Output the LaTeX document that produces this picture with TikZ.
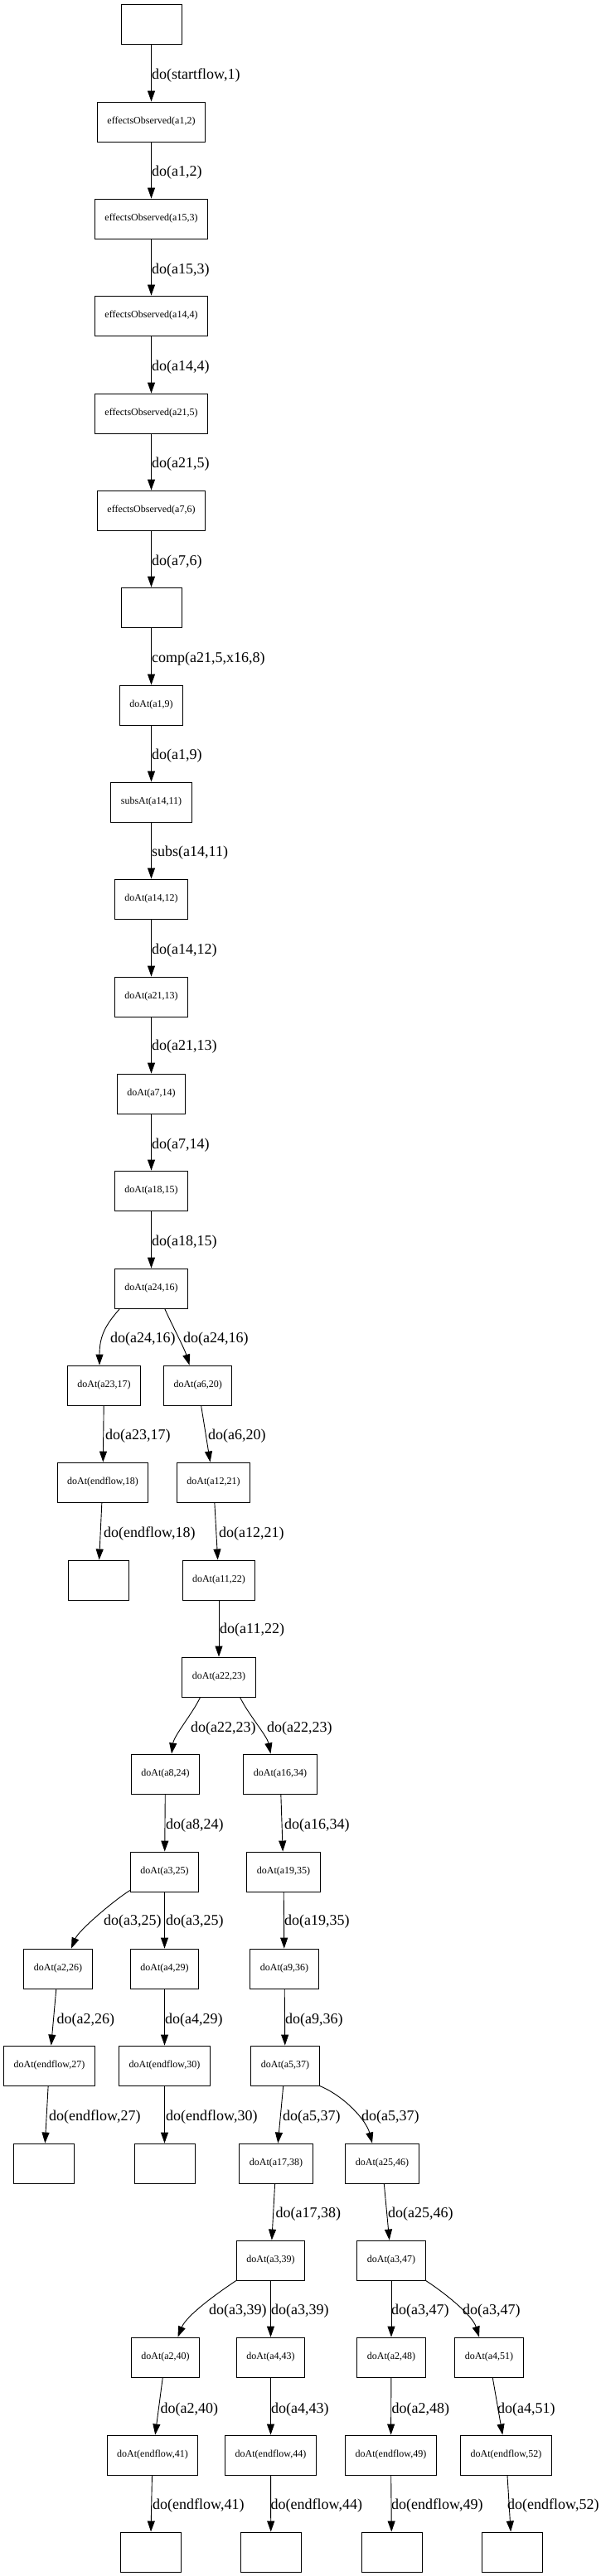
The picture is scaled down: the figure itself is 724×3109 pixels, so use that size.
\documentclass[tikz,border=0pt]{standalone}
\usepackage{fontspec}
\setmainfont{Liberation Serif}
\usetikzlibrary{arrows.meta}

\begin{document}
\begin{tikzpicture}[x=1pt, y=-1pt,
  sit/.style={draw, line width=0.9pt, minimum width=73pt, minimum height=48pt, inner xsep=12pt, inner ysep=0pt, font=\fontsize{12}{14}\selectfont},
  act/.style={-{Triangle[length=13pt, width=9pt]}, line width=0.9pt},
  lbl/.style={anchor=west, inner sep=0pt, font=\fontsize{18}{20}\selectfont}]
  \useasboundingbox (0,0) rectangle (724,3109);

  % Trunk
  \node[sit] (n0) at (182.5, 29) {};
  \node[sit] (n2) at (182.5, 147) {effectsObserved(a1,2)};
  \node[sit] (n3) at (182.5, 264) {effectsObserved(a15,3)};
  \node[sit] (n4) at (182.5, 381) {effectsObserved(a14,4)};
  \node[sit] (n5) at (182.5, 499) {effectsObserved(a21,5)};
  \node[sit] (n6) at (182.5, 616) {effectsObserved(a7,6)};
  \node[sit] (n7) at (182.5, 733) {};
  \node[sit] (n9) at (182.5, 851) {doAt(a1,9)};
  \node[sit] (n11) at (182.5, 968) {subsAt(a14,11)};
  \node[sit] (n12) at (182.5, 1085) {doAt(a14,12)};
  \node[sit] (n13) at (182.5, 1203) {doAt(a21,13)};
  \node[sit] (n14) at (182.5, 1320) {doAt(a7,14)};
  \node[sit] (n15) at (182.5, 1437) {doAt(a18,15)};
  \node[sit] (n16) at (182.5, 1555) {doAt(a24,16)};

  \draw[act] (n0) -- (n2);
  \draw[act] (n2) -- (n3);
  \draw[act] (n3) -- (n4);
  \draw[act] (n4) -- (n5);
  \draw[act] (n5) -- (n6);
  \draw[act] (n6) -- (n7);
  \draw[act] (n7) -- (n9);
  \draw[act] (n9) -- (n11);
  \draw[act] (n11) -- (n12);
  \draw[act] (n12) -- (n13);
  \draw[act] (n13) -- (n14);
  \draw[act] (n14) -- (n15);
  \draw[act] (n15) -- (n16);

  \node[lbl] (l1) at (183, 91) {do(startflow,1)};
  \node[lbl] (l2) at (183, 208) {do(a1,2)};
  \node[lbl] (l3) at (183, 326) {do(a15,3)};
  \node[lbl] (l4) at (183, 443) {do(a14,4)};
  \node[lbl] (l5) at (183, 560) {do(a21,5)};
  \node[lbl] (l6) at (183, 678) {do(a7,6)};
  \node[lbl] (l8) at (183, 795) {comp(a21,5,x16,8)};
  \node[lbl] (l9) at (183, 912) {do(a1,9)};
  \node[lbl] (l11) at (183, 1029) {subs(a14,11)};
  \node[lbl] (l12) at (183, 1147) {do(a14,12)};
  \node[lbl] (l13) at (183, 1263) {do(a21,13)};
  \node[lbl] (l14) at (183, 1382) {do(a7,14)};
  \node[lbl] (l15) at (183, 1499) {do(a18,15)};

  % First split
  \node[sit] (n17) at (125.5, 1672) {doAt(a23,17)};
  \node[sit] (n20) at (238.7, 1672) {doAt(a6,20)};
  \node[sit] (n18) at (124, 1789) {doAt(endflow,18)};
  \node[sit] (n21) at (257.5, 1789) {doAt(a12,21)};
  \node[sit] (n19) at (118.5, 1907) {};
  \node[sit] (n22) at (264, 1907) {doAt(a11,22)};
  \node[sit] (n23) at (264, 2024) {doAt(a22,23)};

  \draw[act] ([xshift=-38pt]n16.south) .. controls +(-16.6,19) and +(0,-36) .. ([xshift=-5.5pt]n17.north);
  \draw[act] ([xshift=16.2pt]n16.south) .. controls +(8,18) and +(-6,-20) .. ([xshift=-10.2pt]n20.north);
  \draw[act] (n17) -- (n18);
  \draw[act] (n20) -- (n21);
  \draw[act] (n18) -- (n19);
  \draw[act] (n21) -- (n22);
  \draw[act] (n22) -- (n23);

  \node[lbl] (l16a) at (133, 1616) {do(a24,16)};
  \node[lbl] (l16b) at (221, 1616) {do(a24,16)};
  \node[lbl] (l17) at (127, 1733) {do(a23,17)};
  \node[lbl] (l20) at (251, 1733) {do(a6,20)};
  \node[lbl] (l18) at (125, 1851) {do(endflow,18)};
  \node[lbl] (l21) at (264, 1851) {do(a12,21)};
  \node[lbl] (l22) at (265, 1967) {do(a11,22)};

  % Second split
  \node[sit] (n24) at (199.5, 2141) {doAt(a8,24)};
  \node[sit] (n34) at (338, 2141) {doAt(a16,34)};
  \node[sit] (n25) at (198.5, 2259) {doAt(a3,25)};
  \node[sit] (n35) at (342, 2259) {doAt(a19,35)};
  \node[sit] (n26) at (70, 2376) {doAt(a2,26)};
  \node[sit] (n29) at (198.5, 2376) {doAt(a4,29)};
  \node[sit] (n36) at (343, 2376) {doAt(a9,36)};
  \node[sit] (n27) at (59.5, 2493) {doAt(endflow,27)};
  \node[sit] (n30) at (198.5, 2493) {doAt(endflow,30)};
  \node[sit] (n37) at (344, 2493) {doAt(a5,37)};
  \node[sit] (n28) at (53, 2611) {};
  \node[sit] (n31) at (198.5, 2611) {};
  \node[sit] (n38) at (333, 2611) {doAt(a17,38)};
  \node[sit] (n46) at (461, 2611) {doAt(a25,46)};

  \draw[act] ([xshift=-22.4pt]n23.south) .. controls +(-9.6,20) and +(3,-22) .. ([xshift=7.5pt]n24.north);
  \draw[act] ([xshift=25.6pt]n23.south) .. controls +(9.4,20) and +(-4.5,-22) .. ([xshift=-11.5pt]n34.north);
  \draw[act] (n24) -- (n25);
  \draw[act] (n34) -- (n35);
  \draw[act] ([yshift=2pt]n25.south west) .. controls +(-18,11) and +(9,-22) .. ([xshift=16pt]n26.north);
  \draw[act] (n25) -- (n29);
  \draw[act] (n35) -- (n36);
  \draw[act] (n26) -- (n27);
  \draw[act] (n29) -- (n30);
  \draw[act] (n36) -- (n37);
  \draw[act] (n27) -- (n28);
  \draw[act] (n30) -- (n31);
  \draw[act] (n37) -- (n38);
  \draw[act] (n37.south east) .. controls +(31,13) and +(-7,-27) .. ([xshift=-12pt]n46.north);

  \node[lbl] (l23a) at (230, 2086) {do(a22,23)};
  \node[lbl] (l23b) at (322, 2086) {do(a22,23)};
  \node[lbl] (l24) at (200, 2203) {do(a8,24)};
  \node[lbl] (l34) at (343, 2203) {do(a16,34)};
  \node[lbl] (l25a) at (125, 2319) {do(a3,25)};
  \node[lbl] (l25b) at (200, 2319) {do(a3,25)};
  \node[lbl] (l35) at (343, 2319) {do(a19,35)};
  \node[lbl] (l26) at (68.5, 2438) {do(a2,26)};
  \node[lbl] (l29) at (199, 2438) {do(a4,29)};
  \node[lbl] (l36) at (344, 2438) {do(a9,36)};
  \node[lbl] (l27) at (59, 2555) {do(endflow,27)};
  \node[lbl] (l30) at (200, 2555) {do(endflow,30)};
  \node[lbl] (l37a) at (341, 2555) {do(a5,37)};
  \node[lbl] (l37b) at (436, 2555) {do(a5,37)};

  % Bottom rows
  \node[sit] (n39) at (326.5, 2728) {doAt(a3,39)};
  \node[sit] (n47) at (472, 2728) {doAt(a3,47)};
  \node[sit] (n40) at (199.5, 2845) {doAt(a2,40)};
  \node[sit] (n43) at (326.5, 2845) {doAt(a4,43)};
  \node[sit] (n48) at (472, 2845) {doAt(a2,48)};
  \node[sit] (n51) at (590, 2845) {doAt(a4,51)};
  \node[sit] (n41) at (184, 2963) {doAt(endflow,41)};
  \node[sit] (n44) at (326.5, 2963) {doAt(endflow,44)};
  \node[sit] (n49) at (471.5, 2963) {doAt(endflow,49)};
  \node[sit] (n52) at (610.5, 2963) {doAt(endflow,52)};
  \node[sit] (n42) at (181.5, 3080) {};
  \node[sit] (n45) at (326.8, 3080) {};
  \node[sit] (n50) at (472.5, 3080) {};
  \node[sit] (n53) at (617.6, 3080) {};

  \draw[act] (n38) -- (n39);
  \draw[act] (n46) -- (n47);
  \draw[act] (n39.south west) .. controls +(-24,16) and +(10.5,-26) .. ([xshift=15pt]n40.north);
  \draw[act] (n39) -- (n43);
  \draw[act] (n47) -- (n48);
  \draw[act] (n47.south east) .. controls +(24.5,16) and +(-8,-26) .. ([xshift=-12pt]n51.north);
  \draw[act] (n40) -- (n41);
  \draw[act] (n43) -- (n44);
  \draw[act] (n48) -- (n49);
  \draw[act] (n51) -- (n52);
  \draw[act] (n41) -- (n42);
  \draw[act] (n44) -- (n45);
  \draw[act] (n49) -- (n50);
  \draw[act] (n52) -- (n53);

  \node[lbl] (l38) at (332.5, 2672) {do(a17,38)};
  \node[lbl] (l46) at (468, 2672) {do(a25,46)};
  \node[lbl] (l39a) at (252, 2789) {do(a3,39)};
  \node[lbl] (l39b) at (327, 2789) {do(a3,39)};
  \node[lbl] (l47a) at (472, 2789) {do(a3,47)};
  \node[lbl] (l47b) at (558, 2789) {do(a3,47)};
  \node[lbl] (l40) at (193.5, 2908) {do(a2,40)};
  \node[lbl] (l43) at (327, 2908) {do(a4,43)};
  \node[lbl] (l48) at (472.5, 2908) {do(a2,48)};
  \node[lbl] (l51) at (600, 2908) {do(a4,51)};
  \node[lbl] (l41) at (184, 3024) {do(endflow,41)};
  \node[lbl] (l44) at (326.5, 3024) {do(endflow,44)};
  \node[lbl] (l49) at (472, 3024) {do(endflow,49)};
  \node[lbl] (l52) at (612, 3024) {do(endflow,52)};
\end{tikzpicture}
\end{document}
